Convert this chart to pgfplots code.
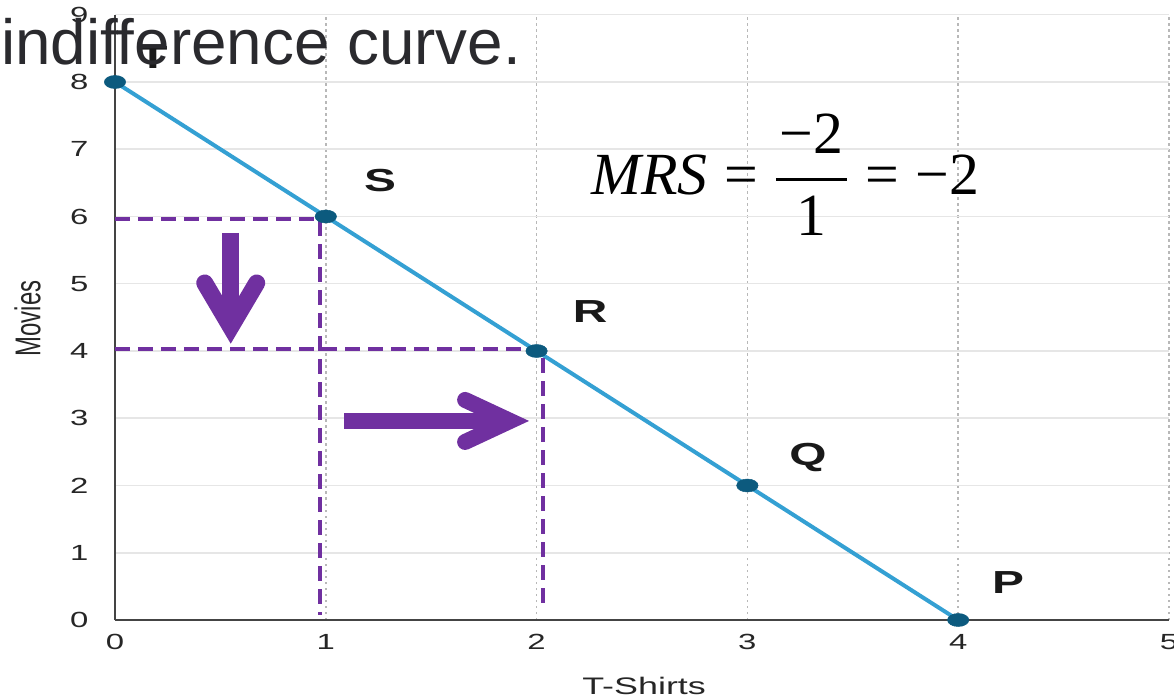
\RequirePackage{fix-cm}
\documentclass[border=0pt]{standalone}
\usepackage{fontspec}
\usepackage{graphicx}
\usepackage{pgfplots}
\pgfplotsset{compat=1.18}
\setmainfont{Liberation Sans}
\newfontfamily\tnr{Liberation Serif}
\newfontfamily\widesans[FakeStretch=1.5]{Liberation Sans}

\definecolor{curveblue}{HTML}{34A0D3}
\definecolor{markteal}{HTML}{0C5A7E}
\definecolor{purp}{HTML}{7030A0}
\definecolor{axisgray}{HTML}{444444}
\definecolor{gridh}{HTML}{E6E6E6}
\definecolor{gridv}{HTML}{B8B8B8}
\definecolor{titlec}{HTML}{2A2A2E}

\begin{document}
\begin{tikzpicture}
\begin{axis}[
  at={(0,0)}, anchor=south west,
  scale only axis, width=1054bp, height=605.25bp,
  xmin=0, xmax=5, ymin=0, ymax=9,
  xtick={0,...,5}, ytick={0,...,9},
  major tick length=0pt,
  axis x line*=bottom, axis y line*=left,
  axis line style={-, draw=axisgray, line width=2.6bp},
  grid=major,
  x grid style={draw=gridv, line width=1.6bp, dash pattern=on 2.5bp off 3.5bp},
  y grid style={draw=gridh, line width=1.5bp},
  /pgf/number format/assume math mode=true,
  tick label style={font=\widesans\fontsize{22}{22}\selectfont, text=black!85},
  xticklabel style={yshift=-11bp},
  yticklabel style={xshift=-23bp},
  xlabel={T-Shirts},
  xlabel style={font=\widesans\fontsize{24}{24}\selectfont, text=black!85,
    at={(axis description cs:0.502,0)}, anchor=base, yshift=-74bp},
  ylabel={\scalebox{1}[1.5]{Movies}},
  ylabel style={font=\fontsize{24}{24}\selectfont, text=black!85,
    at={(axis description cs:0,0.498)}, anchor=center, yshift=87.5bp},
  clip=false,
]
% budget line through the bundles T, S, R, Q, P
\addplot[curveblue, line width=4bp, mark=*, mark size=6.5bp,
  mark options={fill=markteal, draw=markteal, line width=0.5bp, xscale=1.65}]
  coordinates {(0,8) (1,6) (2,4) (3,2) (4,0)};

% dashed guides to S and R
\addplot[purp, line width=4bp, dash pattern=on 15bp off 8bp]
  coordinates {(0,5.96) (0.973,5.96) (0.973,0.07)};
\addplot[purp, line width=4bp, dash pattern=on 15bp off 8bp]
  coordinates {(0,4.03) (2.03,4.03) (2.03,0.15)};

% down arrow (movies given up)
\draw[purp, line width=17bp] (axis cs:0.549,5.755) -- ++(0,-92bp);
\draw[purp, line width=17bp, line cap=round, line join=miter]
  (axis cs:0.549,5.755) ++(-26bp,-50bp) -- ++(26bp,-44bp) -- ++(26bp,44bp);

% right arrow (t-shirts gained)
\draw[purp, line width=16bp] (axis cs:1.087,2.96) -- ++(165bp,0);
\draw[purp, line width=16bp, line cap=round, line join=miter]
  (axis cs:1.087,2.96) ++(121bp,21bp) -- ++(45bp,-21bp) -- ++(-45bp,-21bp);

% point labels
\begin{scope}[every node/.style={font=\widesans\bfseries\fontsize{32}{32}\selectfont, text=black!90}]
\node at (axis cs:0.18,8.37) {T};
\node at (axis cs:1.257,6.53) {S};
\node at (axis cs:2.254,4.58) {R};
\node at (axis cs:3.288,2.41) {Q};
\node at (axis cs:4.237,0.55) {P};
\end{scope}

% marginal rate of substitution
\node[font=\tnr\fontsize{60}{62}\selectfont] at (axis cs:3.18,6.62)
  {$\displaystyle\hbox{\itshape MRS}\mathrel{\hbox{=}}
    {\hbox{\kern4bp −2\kern4bp}\above3.5bp\hbox{1}}
    \mathrel{\hbox{=}}\hbox{−2}$};
\end{axis}

\node[anchor=base west, inner sep=0pt, font=\fontsize{64}{64}\selectfont, text=titlec]
  at (-114bp,555bp) {indifference curve.};

\pgfresetboundingbox
\path[use as bounding box] (-115bp,-78bp) rectangle (1059bp,620bp);
\end{tikzpicture}
\end{document}
